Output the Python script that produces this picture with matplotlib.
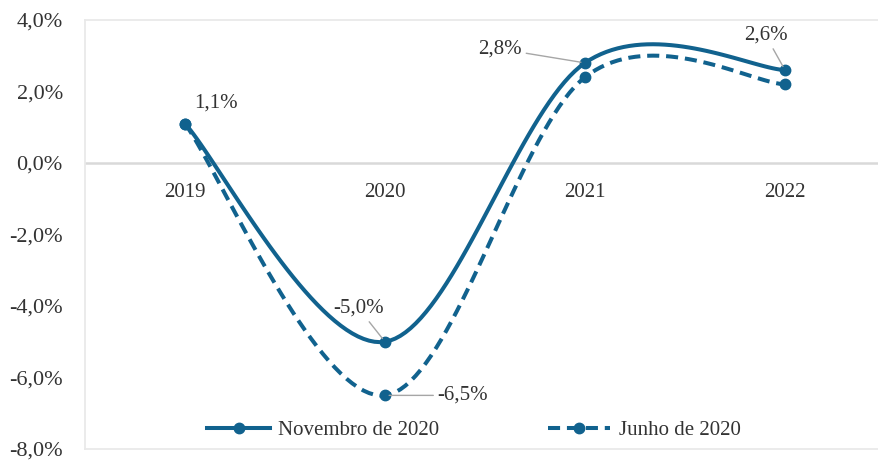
import numpy as np
import matplotlib
matplotlib.use("Agg")
import matplotlib.pyplot as plt
from matplotlib.lines import Line2D

# ---- data ----
years = ["2019", "2020", "2021", "2022"]
novembro = [1.1, -5.0, 2.8, 2.6]
junho = [1.1, -6.5, 2.4, 2.2]
series_names = ["Novembro de 2020", "Junho de 2020"]
yticks = [4, 2, 0, -2, -4, -6, -8]
ytick_labels = ["4,0%", "2,0%", "0,0%", "-2,0%", "-4,0%", "-6,0%", "-8,0%"]
nov_labels = ["1,1%", "-5,0%", "2,8%", "2,6%"]
jun_labels = [None, "-6,5%", None, None]

COLOR = "#11628E"
TEXT = "#333333"
FONT = "Liberation Serif"
plt.rcParams["font.family"] = [FONT, "DejaVu Serif"]


def smooth(xs, ys, n=40):
    """Excel-like smoothed line (Catmull-Rom as cubic Bezier)."""
    xs = np.asarray(xs, float)
    ys = np.asarray(ys, float)
    P = np.column_stack([xs, ys])
    out = []
    m = len(P)
    for i in range(m - 1):
        p0 = P[i - 1] if i > 0 else P[i]
        p1 = P[i]
        p2 = P[i + 1]
        p3 = P[i + 2] if i + 2 < m else P[i + 1]
        c1 = p1 + (p2 - p0) / 6.0
        c2 = p2 - (p3 - p1) / 6.0
        t = np.linspace(0, 1, n)[:, None]
        seg = ((1 - t) ** 3) * p1 + 3 * ((1 - t) ** 2) * t * c1 + 3 * (1 - t) * t ** 2 * c2 + t ** 3 * p2
        out.append(seg if i == 0 else seg[1:])
    c = np.vstack(out)
    return c[:, 0], c[:, 1]


fig = plt.figure(figsize=(8.79, 4.63), dpi=100)
W, H = 879, 463
ax = fig.add_axes([85 / W, (H - 449) / H, 800 / W, 429 / H])

x = np.arange(len(years))
dash = (0, (3.0, 1.7))

for vals, ls, z in [(junho, dash, 3), (novembro, "-", 4)]:
    sx, sy = smooth(x, vals)
    ax.plot(sx, sy, color=COLOR, lw=2.9, linestyle=ls, zorder=z, solid_capstyle="butt")
    ax.plot(x, vals, "o", color=COLOR, ms=7.5, zorder=z + 1)

ax.set_xlim(-0.5, 3.5)
ax.set_ylim(-8, 4)

# frame and zero line
for s in ax.spines.values():
    s.set_color("#e9e9e9")
    s.set_linewidth(1.3)
ax.axhline(0, color="#d9d9d9", lw=1.8, zorder=1)

ax.set_xticks([])
ax.set_yticks(yticks)
ax.set_yticklabels(ytick_labels, fontsize=16, color=TEXT)
ax.tick_params(axis="y", length=0, pad=16)

for i, yr in enumerate(years):
    ax.annotate(yr, (i, 0), xytext=(0, -21.5), textcoords="offset points",
                ha="center", va="center", fontsize=15, color=TEXT)

# data labels
lead = dict(arrowstyle="-", color="#a6a6a6", lw=1.0, shrinkA=1, shrinkB=3)
label_specs = [
    (0, novembro[0], nov_labels[0], (22, 14.5), False),
    (1, novembro[1], nov_labels[1], (-19, 24), True),
    (1, junho[1], jun_labels[1], (56, 0), True),
    (2, novembro[2], nov_labels[2], (-61, 10), True),
    (3, novembro[3], nov_labels[3], (-14, 25), True),
]
for xi, yv, txt, off, has_lead in label_specs:
    ax.annotate(txt, (xi, yv), xytext=off, textcoords="offset points",
                ha="center", va="center", fontsize=15, color=TEXT,
                arrowprops=lead if has_lead else None, zorder=6)

handles = [
    Line2D([], [], color=COLOR, lw=2.9, marker="o", ms=7.5, linestyle="-"),
    Line2D([], [], color=COLOR, lw=2.9, marker="o", ms=7.5, linestyle=dash),
]
leg = fig.legend(handles, series_names, loc="center", bbox_to_anchor=(474 / W, 1 - 430 / H),
                 ncol=2, frameon=False, fontsize=15, handlelength=3.0, handletextpad=0.4,
                 columnspacing=5.2)
for t in leg.get_texts():
    t.set_color(TEXT)

fig.savefig("out.png", dpi=100)
